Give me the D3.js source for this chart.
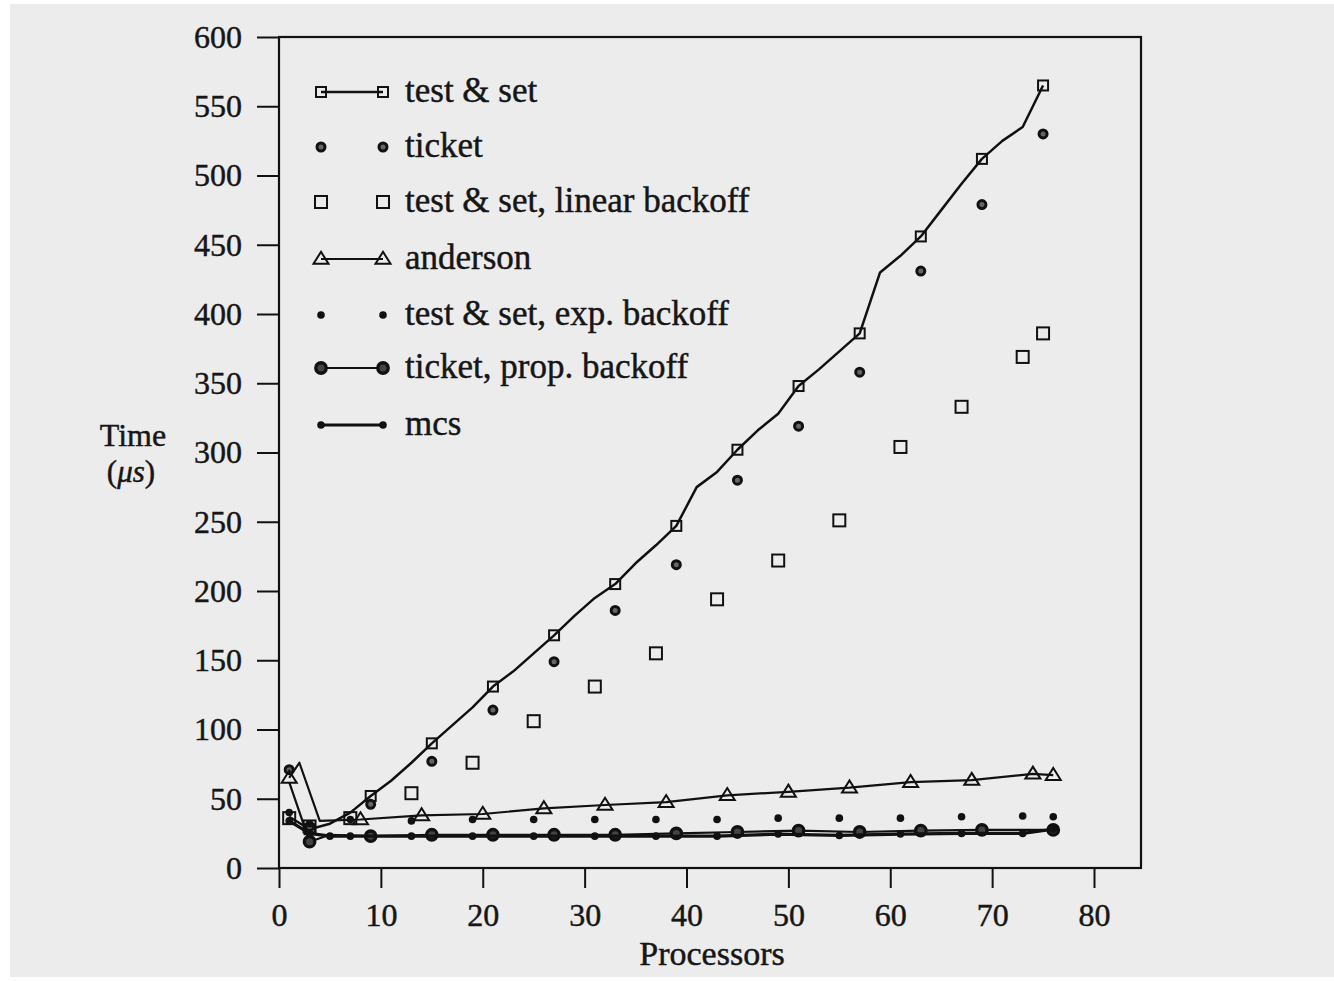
<!DOCTYPE html>
<html>
<head>
<meta charset="utf-8">
<script src="https://cdn.jsdelivr.net/npm/d3@7"></script>
<style>
  html, body { margin: 0; padding: 0; background: #fff; }
  svg { display: block; }
  text { font-family: "Liberation Serif", "Times New Roman", serif; fill: #161616; stroke: #161616; stroke-width: 0.45px; }
</style>
</head>
<body>
<div class="wrapper"></div>
<script>
const width = 1334;
const height = 981;

// processors on x, time (us) on y
const xTicks = [0, 10, 20, 30, 40, 50, 60, 70, 80];
const yTicks = [0, 50, 100, 150, 200, 250, 300, 350, 400, 450, 500, 550, 600];

const tasX = [1, 3, 5, 7, 9, 11, 13, 15, 17, 19, 21, 23, 25, 27, 29, 31, 33, 35, 37, 39, 41, 43, 45, 47, 49, 51, 53, 55, 57, 59, 61, 63, 65, 67, 69, 71, 73, 75];
const tasY = [37, 28, 32, 40, 52, 63, 76, 90, 103, 116, 131, 142, 155, 168, 182, 195, 205, 220, 233, 247, 275, 286, 302, 316, 328, 348, 360, 373, 386, 430, 442, 456, 475, 494, 512, 525, 535, 565];
const tasMarks = [3, 9, 15, 21, 27, 33, 39, 45, 51, 57, 63, 69, 75];

const ticketX = [1, 3, 9, 15, 21, 27, 33, 39, 45, 51, 57, 63, 69, 75];
const ticketY = [71, 30, 46, 77, 114, 149, 186, 219, 280, 319, 358, 431, 479, 530];

const linX = [1, 3, 7, 13, 19, 25, 31, 37, 43, 49, 55, 61, 67, 73, 75];
const linY = [36, 30, 36, 54, 76, 106, 131, 155, 194, 222, 251, 304, 333, 369, 386];

const andX = [1, 2, 4, 8, 14, 20, 26, 32, 38, 44, 50, 56, 62, 68, 74, 76];
const andY = [65, 76, 34, 35, 38, 39, 43, 45.5, 47.5, 52.5, 55, 58, 62, 63.5, 68, 67];
const andMarks = [1, 8, 14, 20, 26, 32, 38, 44, 50, 56, 62, 68, 74, 76];

const expX = [1, 3, 7, 13, 19, 25, 31, 37, 43, 49, 55, 61, 67, 73, 76];
const expY = [40, 32, 35, 34, 35, 35, 35, 35, 35, 36, 36, 36, 37, 37.5, 37];

const propX = [1, 3, 5, 9, 15, 21, 27, 33, 39, 45, 51, 57, 63, 69, 76];
const propY = [62, 19, 24, 23, 24, 24, 24, 24, 25, 26, 27, 26, 27, 27.5, 27.5];
const propMarks = [3, 9, 15, 21, 27, 33, 39, 45, 51, 57, 63, 69, 76];

const mcsX = [1, 3, 5, 7, 13, 19, 25, 31, 37, 43, 49, 55, 61, 67, 73, 76];
const mcsY = [34, 25, 23, 23, 23, 23, 23, 23, 23, 23, 24.5, 23.5, 24.5, 25, 25, 28];

const zip = (xs, ys) => xs.map((x, i) => ({ x, y: ys[i] }));

const series = [
  { name: "test & set", points: zip(tasX, tasY), marks: tasMarks, line: 2.5, mark: "sq" },
  { name: "ticket", points: zip(ticketX, ticketY), marks: ticketX, line: 0, mark: "circ" },
  { name: "test & set, linear backoff", points: zip(linX, linY), marks: linX, line: 0, mark: "sqBig" },
  { name: "anderson", points: zip(andX, andY), marks: andMarks, line: 2.2, mark: "tri" },
  { name: "test & set, exp. backoff", points: zip(expX, expY), marks: expX, line: 0, mark: "dot" },
  { name: "ticket, prop. backoff", points: zip(propX, propY), marks: propMarks, line: 2.2, mark: "circBig" },
  { name: "mcs", points: zip(mcsX, mcsY), marks: mcsX, line: 3.2, mark: "dot" }
];

const ink = "#111";

const svg = d3
  .select(".wrapper")
  .append("svg")
  .attr("width", width)
  .attr("height", height)
  .attr("viewBox", [0, 0, width, height]);

// scanned page background
svg.append("rect")
  .attr("x", 10).attr("y", 4)
  .attr("width", width - 10).attr("height", 973)
  .attr("fill", "#ececec");

const x = d3.scaleLinear().domain([0, 80]).range([279, 1094]);
const y = d3.scaleLinear().domain([0, 600]).range([868, 37]);
const frameRight = 1141;

// frame
svg.append("rect")
  .attr("x", x(0)).attr("y", y(600))
  .attr("width", frameRight - x(0)).attr("height", y(0) - y(600))
  .attr("fill", "none").attr("stroke", ink).attr("stroke-width", 2.2);

const yAxis = svg.append("g")
  .attr("transform", `translate(${x(0)},0)`)
  .call(d3.axisLeft(y).tickValues(yTicks).tickSize(22).tickPadding(15).tickSizeOuter(0));

const xAxis = svg.append("g")
  .attr("transform", `translate(0,${y(0)})`)
  .call(d3.axisBottom(x).tickValues(xTicks).tickSize(20).tickPadding(15).tickSizeOuter(0));

for (const ax of [xAxis, yAxis]) {
  ax.select(".domain").remove();
  ax.selectAll(".tick line").attr("stroke", ink).attr("stroke-width", 2);
  ax.selectAll(".tick text")
    .attr("font-family", "Liberation Serif")
    .attr("font-size", 32)
    .attr("fill", "#161616");
}

// axis titles
svg.append("text")
  .attr("x", 712).attr("y", 965)
  .attr("text-anchor", "middle")
  .attr("font-size", 34)
  .text("Processors");

svg.append("text")
  .attr("x", 133).attr("y", 446)
  .attr("text-anchor", "middle")
  .attr("font-size", 32)
  .text("Time");
const unit = svg.append("text")
  .attr("x", 131).attr("y", 482)
  .attr("text-anchor", "middle")
  .attr("font-size", 31);
unit.append("tspan").text("(");
unit.append("tspan").attr("font-style", "italic").text("\u03bcs");
unit.append("tspan").text(")");

function drawMark(g, type, cx, cy) {
  if (type === "sq" || type === "sqBig") {
    const s = type === "sq" ? 10 : 12;
    g.append("rect")
      .attr("x", cx - s / 2).attr("y", cy - s / 2)
      .attr("width", s).attr("height", s)
      .attr("fill", "none").attr("stroke", ink).attr("stroke-width", 2);
  } else if (type === "circ") {
    g.append("circle").attr("cx", cx).attr("cy", cy).attr("r", 4)
      .attr("fill", "#666").attr("stroke", ink).attr("stroke-width", 3);
  } else if (type === "circBig") {
    g.append("circle").attr("cx", cx).attr("cy", cy).attr("r", 5.2)
      .attr("fill", "#444").attr("stroke", ink).attr("stroke-width", 3.4);
  } else if (type === "tri") {
    const s = 15;
    const h = s * 0.8;
    g.append("path")
      .attr("d", `M${cx},${cy - h * 0.6}L${cx + s / 2},${cy + h * 0.4}L${cx - s / 2},${cy + h * 0.4}Z`)
      .attr("fill", "none").attr("stroke", ink).attr("stroke-width", 2);
  } else if (type === "dot") {
    g.append("circle").attr("cx", cx).attr("cy", cy).attr("r", 3.8).attr("fill", ink);
  }
}

const line = d3.line().x((d) => x(d.x)).y((d) => y(d.y));

const plot = svg.append("g");
for (const s of series) {
  if (s.line > 0) {
    plot.append("path")
      .datum(s.points)
      .attr("d", line)
      .attr("fill", "none")
      .attr("stroke", ink)
      .attr("stroke-width", s.line)
      .attr("stroke-linejoin", "round");
  }
  const g = plot.append("g");
  s.points
    .filter((p) => s.marks.includes(p.x))
    .forEach((p) => drawMark(g, s.mark, x(p.x), y(p.y)));
}

// legend
const legendRows = [92, 147, 202, 259, 315, 368, 425];
const legend = svg.append("g");
series.forEach((s, i) => {
  const ry = legendRows[i];
  if (s.line > 0) {
    legend.append("line")
      .attr("x1", 321).attr("x2", 383).attr("y1", ry).attr("y2", ry)
      .attr("stroke", ink).attr("stroke-width", s.line);
  }
  drawMark(legend, s.mark, 321, ry);
  drawMark(legend, s.mark, 383, ry);
  legend.append("text")
    .attr("x", 405).attr("y", ry + 10)
    .attr("font-size", 35)
    .text(s.name);
});
</script>
</body>
</html>
